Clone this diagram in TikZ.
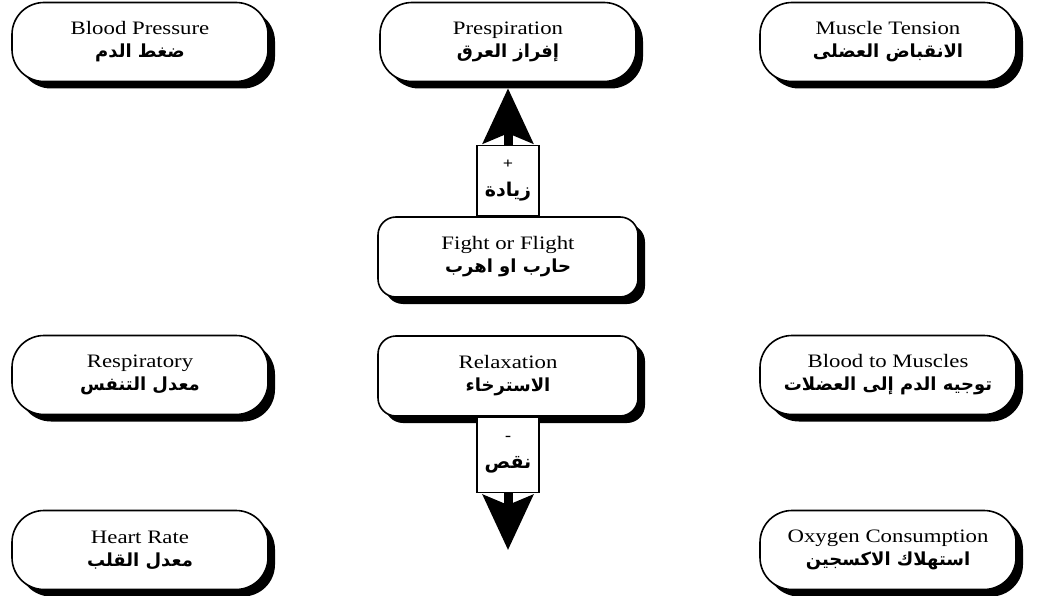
\documentclass[tikz,border=0pt]{standalone}
\usepackage{fontspec}
\setmainfont{Liberation Serif}[FakeStretch=1.2]
\newfontfamily\arabicfont[Script=Arabic]{DejaVu Sans}
\TeXXeTstate=1
\usetikzlibrary{shadows,arrows.meta}
\newcommand{\arabline}[1]{{\arabicfont\bfseries\fontsize{18}{22}\selectfont\beginR #1\endR}}
\newcommand{\signline}[1]{{\arabicfont\bfseries\fontsize{19}{22}\selectfont\beginR #1\endR}}

\begin{document}
\begin{tikzpicture}[x=1pt, y=1pt, font=\fontsize{19}{23}\selectfont]
  \useasboundingbox (0,0) rectangle (1038,-596);
  \tikzset{
    effect/.style={draw, line width=1.6pt, fill=white, align=center,
      minimum width=256pt, minimum height=79pt, rounded corners=32pt,
      drop shadow={shadow xshift=7pt, shadow yshift=-7pt, fill=black, opacity=1}},
    state/.style={effect, minimum width=260pt, minimum height=80pt, rounded corners=18pt},
    signbox/.style={draw, line width=1.3pt, fill=white, align=center,
      minimum width=62pt, inner sep=2pt, font=\bfseries\fontsize{15}{28}\selectfont},
    bigarrow/.style={line width=9pt, -{Stealth[length=55pt, width=50pt, inset=10pt]}}
  }

  % Outer effects, three columns.
  \node[effect] (bp)     at (140,-42)  {Blood Pressure\\\arabline{ضغط الدم}};
  \node[effect] (persp)  at (508,-42)  {Prespiration\\\arabline{إفراز العرق}};
  \node[effect] (muscle) at (888,-42)  {Muscle Tension\\\arabline{الانقباض العضلى}};
  \node[effect] (resp)   at (140,-375) {Respiratory\\\arabline{معدل التنفس}};
  \node[effect] (blood)  at (888,-375) {Blood to Muscles\\\arabline{توجيه الدم إلى العضلات}};
  \node[effect] (heart)  at (140,-550) {Heart Rate\\\arabline{معدل القلب}};
  \node[effect] (oxygen) at (888,-550) {Oxygen Consumption\\\arabline{استهلاك الاكسجين}};

  % The two states in the middle column.
  \node[state] (fight) at (508,-257) {Fight or Flight\\\arabline{حارب او اهرب}};
  \node[state] (relax) at (508,-376) {Relaxation\\\arabline{الاسترخاء}};

  % Increase upward, decrease downward.
  \node[signbox, minimum height=70pt, anchor=south] (inc) at (fight.north) {+\\\signline{زيادة}};
  \node[signbox, minimum height=75pt, anchor=north] (dec) at (relax.south) {-\\\signline{نقص}};
  \coordinate (dtip) at (508,-550);
  \draw[bigarrow] (inc.north) -- ([yshift=-6pt]persp.south);
  \draw[bigarrow] (dec.south) -- (dtip);
\end{tikzpicture}
\end{document}
